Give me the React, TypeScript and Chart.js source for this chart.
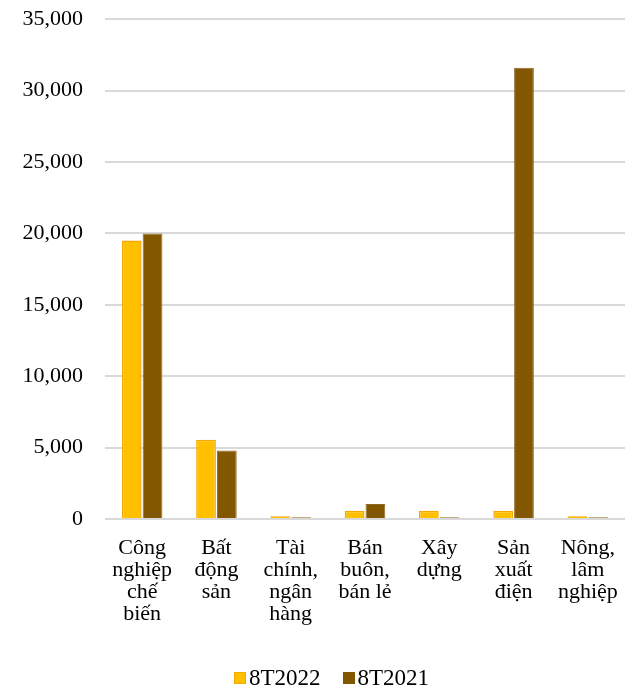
import React, { useEffect, useRef } from "react";
import { Chart, registerables } from "chart.js";

Chart.register(...registerables);

const categories: string[][] = [
  ["Công", "nghiệp", "chế", "biến"],
  ["Bất", "động", "sản"],
  ["Tài", "chính,", "ngân", "hàng"],
  ["Bán", "buôn,", "bán lẻ"],
  ["Xây", "dựng"],
  ["Sản", "xuất", "điện"],
  ["Nông,", "lâm", "nghiệp"],
];
const series2022 = [19500, 5550, 200, 580, 580, 580, 200];
const series2021 = [20000, 4800, 130, 1050, 130, 31600, 130];
const seriesNames = ["8T2022", "8T2021"];
const seriesColors = ["#FFC000", "#825700"];
const seriesBorders = ["#F7A800", "#8E6A26"];

const family = "'Liberation Serif', 'Times New Roman', serif";

export default function App() {
  const ref = useRef<HTMLCanvasElement | null>(null);
  useEffect(() => {
    if (!ref.current) return;
    const font = { family, size: 22, lineHeight: 1.0 };
    const chart = new Chart(ref.current, {
      type: "bar",
      data: {
        labels: categories,
        datasets: seriesNames.map((name, i) => ({
          label: name,
          data: i === 0 ? series2022 : series2021,
          backgroundColor: seriesColors[i],
          borderColor: seriesBorders[i],
          borderWidth: i === 0 ? 1.5 : 1,
          categoryPercentage: 0.56,
          barPercentage: 0.95,
        })),
      },
      options: {
        animation: false,
        responsive: true,
        maintainAspectRatio: false,
        layout: { padding: { top: 0, right: 6, left: 0, bottom: 0 } },
        plugins: {
          legend: { display: false },
          tooltip: { enabled: false },
        },
        scales: {
          x: {
            grid: { display: false },
            border: { display: false },
            ticks: { font, color: "#000", padding: 10, maxRotation: 0, autoSkip: false },
            afterFit: (s: any) => {
              s.height = 141;
            },
          },
          y: {
            min: 0,
            max: 35000,
            grid: { color: "#d9d9d9", lineWidth: 2, drawTicks: false },
            border: { display: false },
            ticks: {
              stepSize: 5000,
              font: { family, size: 22 },
              color: "#000",
              padding: 22,
              callback: (v: any) => Number(v).toLocaleString("en-US"),
            },
            afterFit: (s: any) => {
              s.width = 105;
            },
          },
        },
      },
    });
    return () => chart.destroy();
  }, []);
  return (
    <div style={{ position: "fixed", left: 0, top: 0, width: 631, height: 688, overflow: "hidden" }}>
      <div style={{ position: "absolute", left: 0, top: -16, width: 631, height: 676 }}>
        <canvas ref={ref} />
      </div>
      <div
        style={{
          position: "absolute",
          left: 0,
          top: 666,
          width: 631,
          height: 24,
          display: "flex",
          justifyContent: "center",
          alignItems: "center",
          paddingLeft: 32,
          boxSizing: "border-box",
          fontFamily: family,
          fontSize: 23,
          lineHeight: "24px",
          color: "#000",
        }}
      >
        {seriesNames.map((name, i) => (
          <div key={name} style={{ display: "flex", alignItems: "center", marginRight: i === 0 ? 22 : 0 }}>
            <span
              style={{
                display: "inline-block",
                width: 12,
                height: 12,
                background: seriesColors[i],
                border: i === 0 ? `1px solid ${seriesBorders[0]}` : "none",
                boxSizing: "border-box",
                marginRight: 3,
              }}
            />
            <span>{name}</span>
          </div>
        ))}
      </div>
    </div>
  );
}
